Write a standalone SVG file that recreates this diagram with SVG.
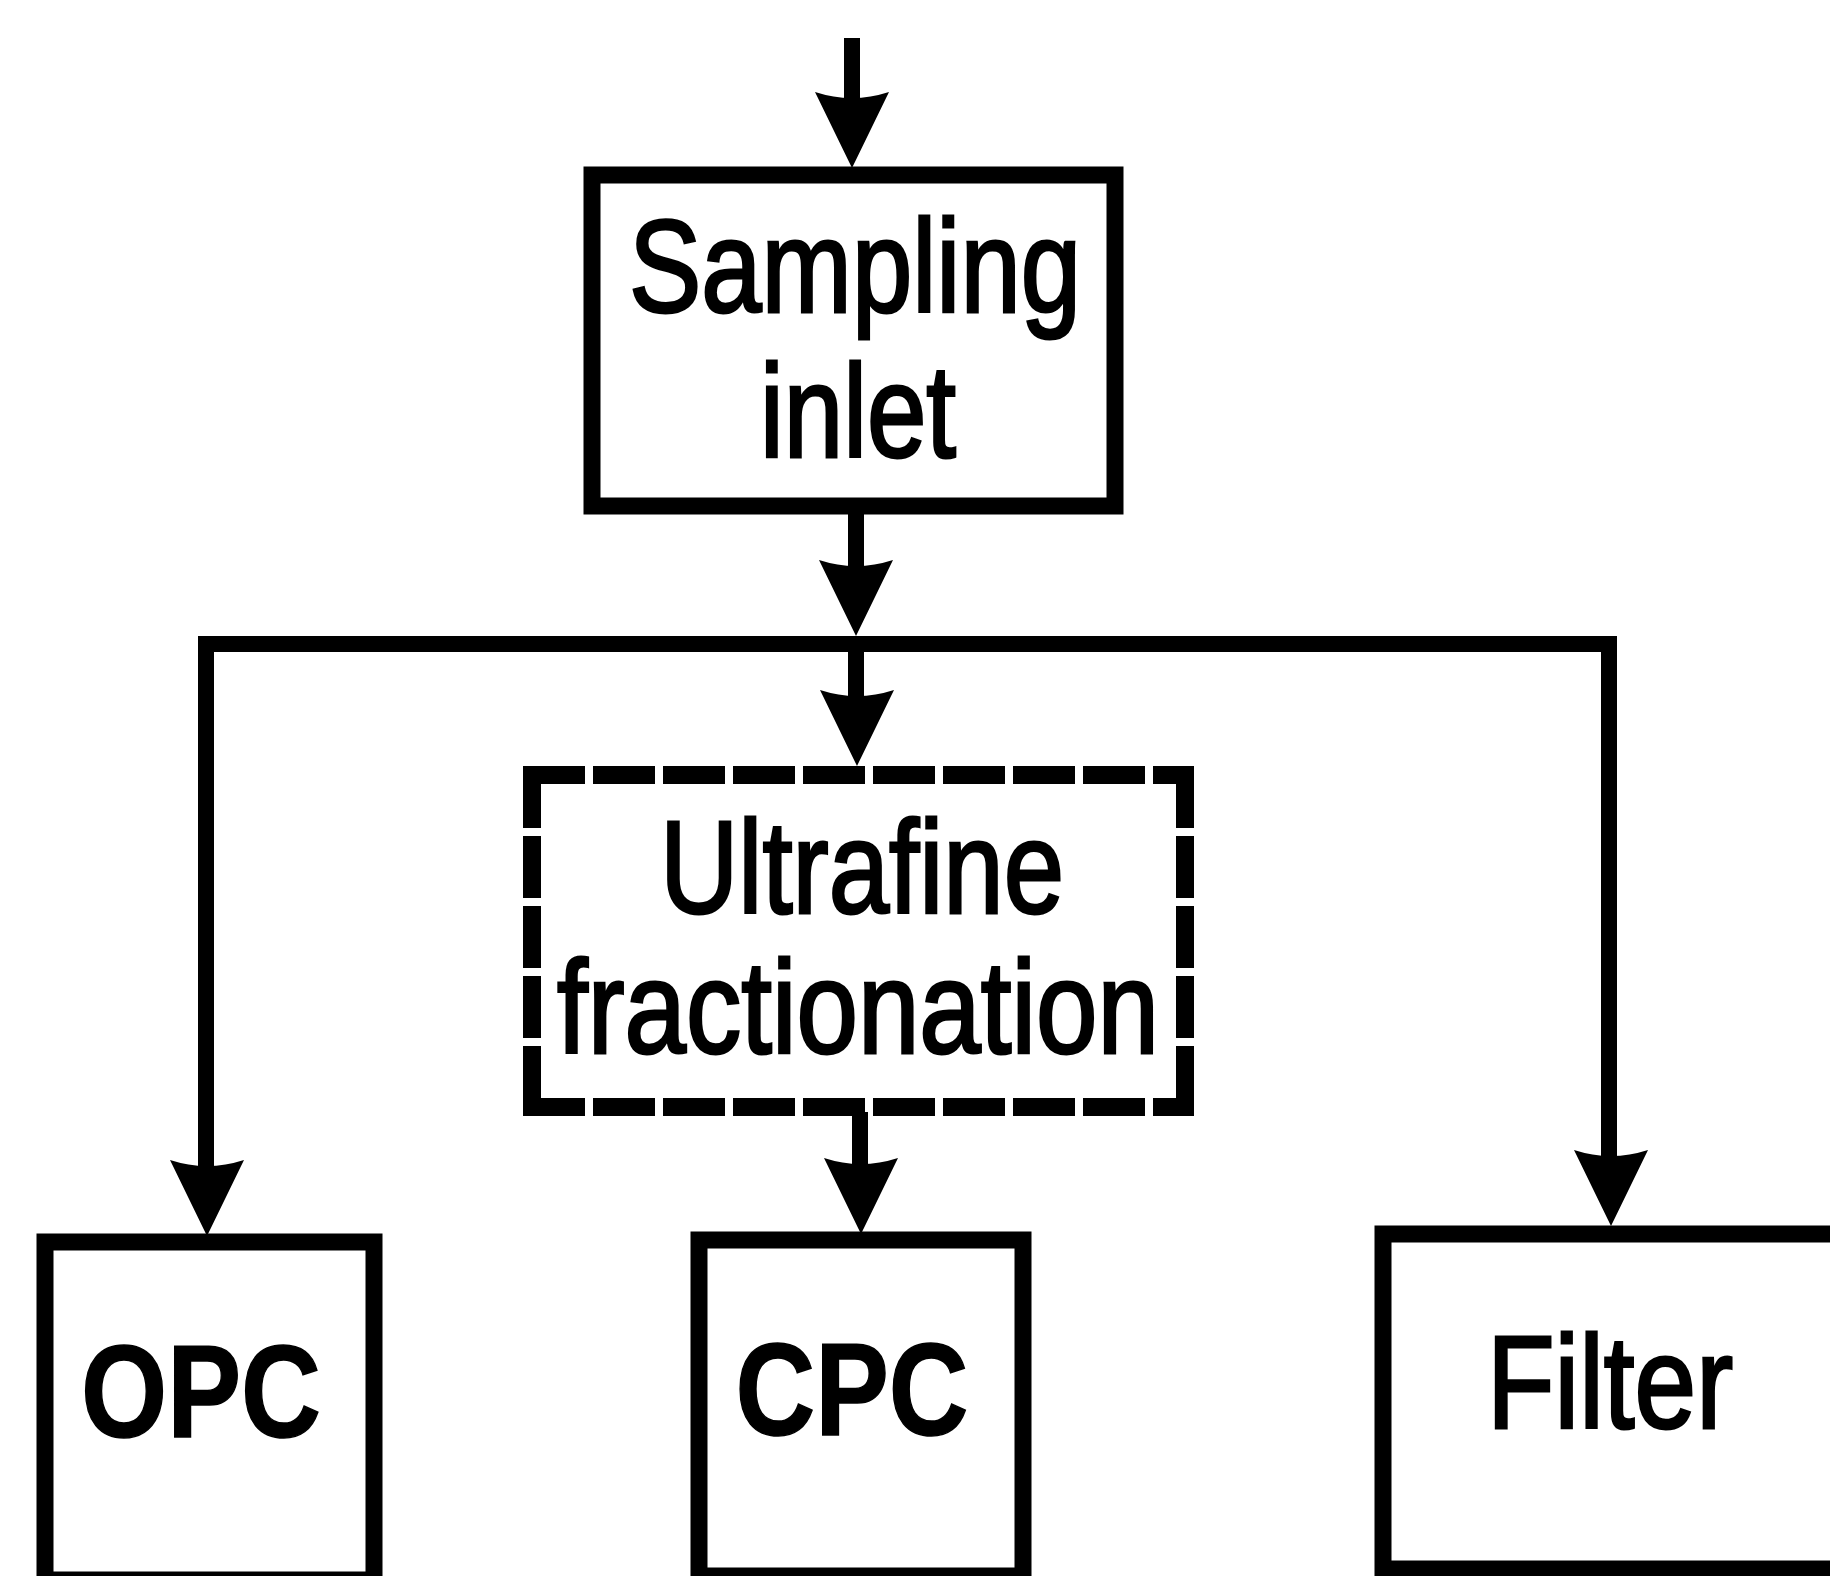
<svg xmlns="http://www.w3.org/2000/svg" xmlns:xlink="http://www.w3.org/1999/xlink" width="1830" height="1576" viewBox="0 0 1830 1576">
<style>
.box{fill:none;stroke:#000;stroke-width:17}
.dash{fill:none;stroke:#000;stroke-width:18;stroke-dasharray:62 8}
.wire{fill:none;stroke:#000;stroke-width:16;stroke-linejoin:miter}
.lbl{font-family:"Liberation Sans",Arial,Helvetica,sans-serif;font-size:132px;fill:#000;stroke:#000;stroke-width:3;text-anchor:middle}
.bold{font-weight:bold;stroke-width:1.5}
</style>
<defs>
<path id="ah" d="M0,0 L-37,-76 Q0,-64 37,-76 Z" fill="#000"/>
</defs>
<rect width="1830" height="1576" fill="#fff"/>
<g id="connectors">
<line class="wire" x1="852" y1="38" x2="852" y2="120"/>
<use xlink:href="#ah" x="852" y="168"/>
<line class="wire" x1="856" y1="512" x2="856" y2="590"/>
<use xlink:href="#ah" x="856" y="636"/>
<path class="wire" d="M206,1190 V644 H1609 V1180"/>
<line class="wire" x1="856" y1="644" x2="856" y2="720"/>
<use xlink:href="#ah" x="857" y="766"/>
<line class="wire" x1="860" y1="1112" x2="860" y2="1190"/>
<use xlink:href="#ah" x="861" y="1234"/>
<use xlink:href="#ah" x="207" y="1236"/>
<use xlink:href="#ah" x="1611" y="1226"/>
</g>
<g id="sampling-inlet">
<rect class="box" x="592" y="175" width="523" height="331"/>
<text class="lbl" x="855" y="312" textLength="452" lengthAdjust="spacingAndGlyphs">Sampling</text>
<text class="lbl" x="858" y="457" textLength="196" lengthAdjust="spacingAndGlyphs">inlet</text>
</g>
<g id="ultrafine-fractionation">
<path class="dash" d="M523,775 H1194"/>
<path class="dash" d="M1185,766 V1116"/>
<path class="dash" d="M523,1107 H1194"/>
<path class="dash" d="M532,766 V1116"/>
<text class="lbl" x="862" y="913" textLength="404" lengthAdjust="spacingAndGlyphs">Ultrafine</text>
<text class="lbl" x="858" y="1053" textLength="602" lengthAdjust="spacingAndGlyphs">fractionation</text>
</g>
<g id="opc">
<rect class="box" x="45" y="1242" width="329" height="338"/>
<text class="lbl bold" x="201" y="1437" textLength="240" lengthAdjust="spacingAndGlyphs">OPC</text>
</g>
<g id="cpc">
<rect class="box" x="699" y="1240" width="324" height="336"/>
<text class="lbl bold" x="852" y="1435" textLength="233" lengthAdjust="spacingAndGlyphs">CPC</text>
</g>
<g id="filter">
<rect class="box" x="1383" y="1234" width="462" height="335"/>
<text class="lbl" x="1610" y="1428" textLength="246" lengthAdjust="spacingAndGlyphs">Filter</text>
</g>
</svg>
